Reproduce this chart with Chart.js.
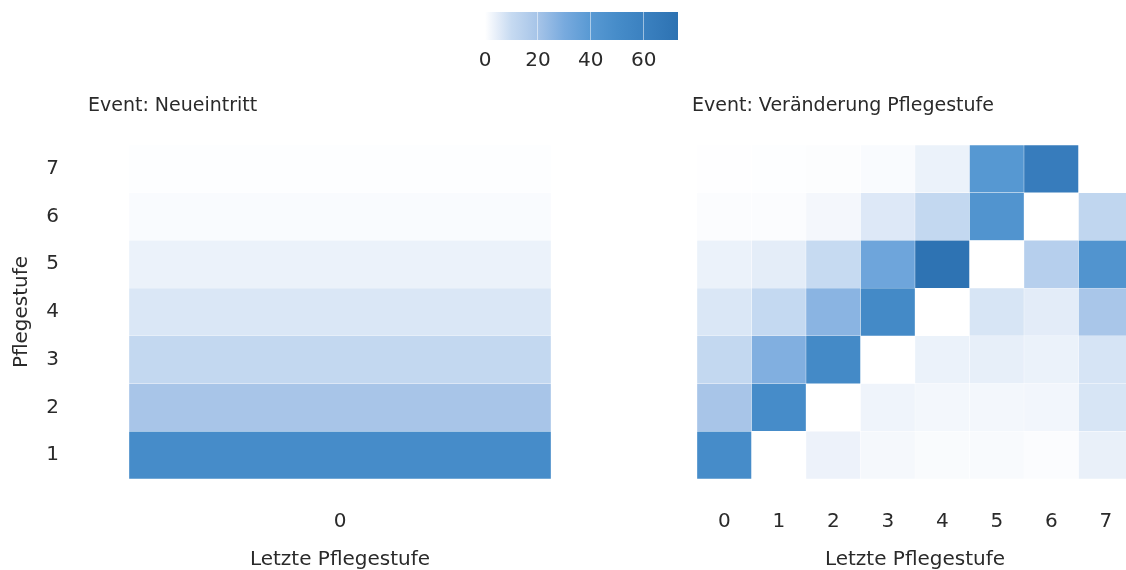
<!DOCTYPE html>
<html>
<head>
<meta charset="utf-8">
<script src="https://cdn.jsdelivr.net/npm/chart.js@4.4.0/dist/chart.umd.min.js"></script>
<style>
  html, body { margin: 0; padding: 0; background: #fff; width: 1126px; height: 570px; overflow: hidden; }
  .box { position: absolute; }
</style>
</head>
<body>
<div class="box" style="left:440px; top:0; width:280px; height:80px;"><canvas id="scale"></canvas></div>
<div class="box" style="left:0; top:80px; width:570px; height:490px;"><canvas id="left"></canvas></div>
<div class="box" style="left:600px; top:80px; width:533px; height:490px;"><canvas id="right"></canvas></div>
<script>
// Pflegestufe (y axis), bottom to top
const stages = [1, 2, 3, 4, 5, 6, 7];
// Letzte Pflegestufe (x axis)
const lastStagesNew = ['0'];
const lastStagesChange = ['0', '1', '2', '3', '4', '5', '6', '7'];

// Event: Neueintritt, one value per Pflegestufe 1..7
const newEntry = [50, 19.5, 11, 6.5, 3.5, 1, 0.3];

// Event: Veränderung Pflegestufe, one row per Pflegestufe, columns = letzte Pflegestufe 0..7
const change1 = [50, null, 3.3, 1.8, 1.1, 1.3, 0.8, 4];
const change2 = [19.5, 50, null, 2.8, 2.2, 2.2, 2.3, 7];
const change3 = [11, 28, 52, null, 3.5, 4.3, 3.5, 7.2];
const change4 = [6.5, 10.5, 26, 52, null, 7, 5, 19];
const change5 = [3.5, 4.8, 10, 33, 72, null, 15, 44];
const change6 = [0.8, 0.8, 2, 6, 11, 44, null, 12];
const change7 = [0.2, 0.3, 0.5, 1, 3.5, 41, 64, null];

// colour scale
const colorTicks = [0, 20, 40, 60];
const colorMax = 73;
const colorStops = [0, 5, 10, 20, 30, 40, 50, 60, 73];
const colorHex = ['#ffffff', '#e3ecf8', '#c6daf1', '#a6c4e8', '#78aade', '#5899d3', '#468cc9', '#3b81c0', '#2d72b2'];

const textColor = '#2a2a2a';
const fontFamily = '"DejaVu Sans", sans-serif';

function hexToRgb(h) {
  return [parseInt(h.slice(1, 3), 16), parseInt(h.slice(3, 5), 16), parseInt(h.slice(5, 7), 16)];
}

function colorFor(v) {
  if (v == null) return 'rgba(0,0,0,0)';
  for (let i = 1; i < colorStops.length; i++) {
    if (v <= colorStops[i]) {
      const t = (v - colorStops[i - 1]) / (colorStops[i] - colorStops[i - 1]);
      const a = hexToRgb(colorHex[i - 1]);
      const b = hexToRgb(colorHex[i]);
      const c = a.map((x, k) => Math.round(x + (b[k] - x) * t));
      return 'rgb(' + c.join(',') + ')';
    }
  }
  return colorHex[colorHex.length - 1];
}

// one floating-bar dataset per Pflegestufe row
function heatDatasets(labels, rows) {
  return stages.map((s, i) => ({
    label: 'Pflegestufe ' + s,
    data: labels.map((x, j) => rows[i][j] == null ? null : [s - 0.5, s + 0.5]),
    backgroundColor: labels.map((x, j) => colorFor(rows[i][j])),
    borderColor: 'rgba(255,255,255,0.35)',
    borderWidth: 0.5,
    borderSkipped: false,
    barPercentage: 1,
    categoryPercentage: 1,
    grouped: false
  }));
}

// no extra room for tick labels hanging over the plot edges
function noPad(s) {
  s.paddingLeft = 0;
  s.paddingRight = 0;
  s.paddingTop = 0;
  s.paddingBottom = 0;
}

// panel title drawn relative to the plot area
const panelTitle = {
  id: 'panelTitle',
  afterDraw(chart, args, opts) {
    const { ctx, chartArea } = chart;
    ctx.save();
    ctx.font = '19px ' + fontFamily;
    ctx.fillStyle = textColor;
    ctx.textBaseline = 'middle';
    ctx.textAlign = 'left';
    ctx.fillText(opts.text, chartArea.left + opts.dx, chartArea.top + opts.dy);
    ctx.restore();
  }
};

function heatOptions(title, dx, showY, padding) {
  return {
    responsive: true,
    maintainAspectRatio: false,
    animation: false,
    layout: { padding: padding },
    scales: {
      x: {
        type: 'category',
        grid: { display: false },
        border: { display: false },
        ticks: { color: textColor, font: { family: fontFamily, size: 20 }, padding: 23 },
        title: {
          display: true, text: 'Letzte Pflegestufe', color: textColor,
          font: { family: fontFamily, size: 20 }, padding: { top: 0, bottom: -2 }
        },
        afterFit: s => { s.height = 91; noPad(s); }
      },
      y: {
        type: 'linear',
        display: showY,
        min: 0.5,
        max: 7.5,
        afterBuildTicks: s => { s.ticks = stages.map(v => ({ value: v })); },
        grid: { display: false },
        border: { display: false },
        ticks: { color: textColor, font: { family: fontFamily, size: 20 }, padding: 62 },
        title: {
          display: true, text: 'Pflegestufe', color: textColor,
          font: { family: fontFamily, size: 20 }, padding: { top: 10, bottom: 0 }
        },
        afterFit: s => { s.width = showY ? 129 : 0; noPad(s); }
      }
    },
    plugins: {
      legend: { display: false },
      tooltip: { enabled: false },
      panelTitle: { text: title, dx: dx, dy: -39 }
    }
  };
}

new Chart(document.getElementById('left'), {
  type: 'bar',
  data: { labels: lastStagesNew, datasets: heatDatasets(lastStagesNew, newEntry.map(v => [v])) },
  options: heatOptions('Event: Neueintritt', -41, true, { left: 0, right: 19, top: 65, bottom: 0 }),
  plugins: [panelTitle]
});

new Chart(document.getElementById('right'), {
  type: 'bar',
  data: {
    labels: lastStagesChange,
    datasets: heatDatasets(lastStagesChange, [change1, change2, change3, change4, change5, change6, change7])
  },
  options: heatOptions('Event: Veränderung Pflegestufe', -5, false, { left: 97, right: 0, top: 65, bottom: 0 }),
  plugins: [panelTitle]
});

// colour bar
function scaleGradient(chart) {
  const { ctx, chartArea, scales } = chart;
  if (!chartArea) return null;
  const g = ctx.createLinearGradient(chartArea.left, 0, chartArea.right, 0);
  colorStops.forEach((v, i) => {
    const p = (scales.x.getPixelForValue(v) - chartArea.left) / (chartArea.right - chartArea.left);
    g.addColorStop(Math.min(1, Math.max(0, p)), colorHex[i]);
  });
  return g;
}

new Chart(document.getElementById('scale'), {
  type: 'bar',
  data: {
    labels: ['Farbskala'],
    datasets: [{
      data: [[0, colorMax]],
      backgroundColor: c => scaleGradient(c.chart),
      barPercentage: 1,
      categoryPercentage: 1,
      borderWidth: 0
    }]
  },
  options: {
    indexAxis: 'y',
    responsive: true,
    maintainAspectRatio: false,
    animation: false,
    layout: { padding: { left: 45, right: 42, top: 12, bottom: 0 } },
    scales: {
      x: {
        type: 'linear',
        min: 0,
        max: colorMax,
        afterBuildTicks: s => { s.ticks = colorTicks.map(v => ({ value: v })); },
        grid: { color: 'rgba(255,255,255,0.5)', lineWidth: 1, z: 1, drawTicks: false },
        border: { display: false },
        ticks: { color: textColor, font: { family: fontFamily, size: 20 }, padding: 9 },
        afterFit: s => { s.height = 40; noPad(s); }
      },
      y: { display: false, afterFit: s => { s.width = 0; noPad(s); } }
    },
    plugins: { legend: { display: false }, tooltip: { enabled: false } }
  }
});
</script>
</body>
</html>
